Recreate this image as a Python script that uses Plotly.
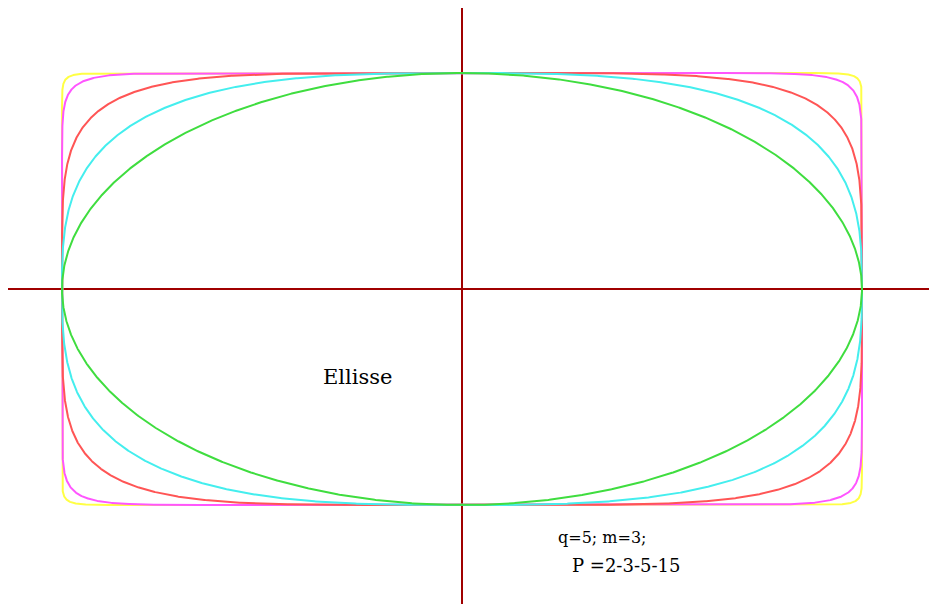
import numpy as np
import plotly.graph_objects as go

# superellipse |x/a|^p + |y/b|^p = 1
semi_axis_a = 400
semi_axis_b = 216
exponents = [2, 3, 5, 15, 40]
colors = ["#3fdd3f", "#44eeee", "#ff5555", "#ff55ff", "#ffff44"]
draw_order = [4, 3, 2, 1, 0]

labels = ["Ellisse", "q=5; m=3;", "P =2-3-5-15"]

t = np.linspace(0, 2 * np.pi, 2001)
fig = go.Figure()

# axes lines
fig.add_trace(go.Scatter(x=[-455, 470], y=[0, 0], mode="lines",
                         line=dict(color="#a00000", width=2), hoverinfo="skip"))
fig.add_trace(go.Scatter(x=[0, 0], y=[-330, 285], mode="lines",
                         line=dict(color="#a00000", width=2), hoverinfo="skip"))

for i in draw_order:
    p = exponents[i]
    c, s = np.cos(t), np.sin(t)
    x = semi_axis_a * np.sign(c) * np.abs(c) ** (2.0 / p)
    y = semi_axis_b * np.sign(s) * np.abs(s) ** (2.0 / p)
    fig.add_trace(go.Scatter(x=x, y=y, mode="lines",
                             line=dict(color=colors[i], width=2), hoverinfo="skip"))

serif = "DejaVu Serif, Liberation Serif, serif"
fig.add_annotation(x=-105, y=-88, text=labels[0], showarrow=False,
                   font=dict(family=serif, size=21, color="black"))
fig.add_annotation(x=94, y=-248, text=labels[1], showarrow=False, xanchor="left",
                   font=dict(family=serif, size=16, color="black"))
fig.add_annotation(x=108, y=-276, text=labels[2], showarrow=False, xanchor="left",
                   font=dict(family=serif, size=18, color="black"))

fig.update_layout(
    width=937, height=604,
    margin=dict(l=0, r=0, t=0, b=0),
    paper_bgcolor="white", plot_bgcolor="white",
    showlegend=False,
    xaxis=dict(range=[-454, 483], visible=False, fixedrange=True),
    yaxis=dict(range=[-323, 281], visible=False, fixedrange=True),
)
fig.write_html("out.html")
